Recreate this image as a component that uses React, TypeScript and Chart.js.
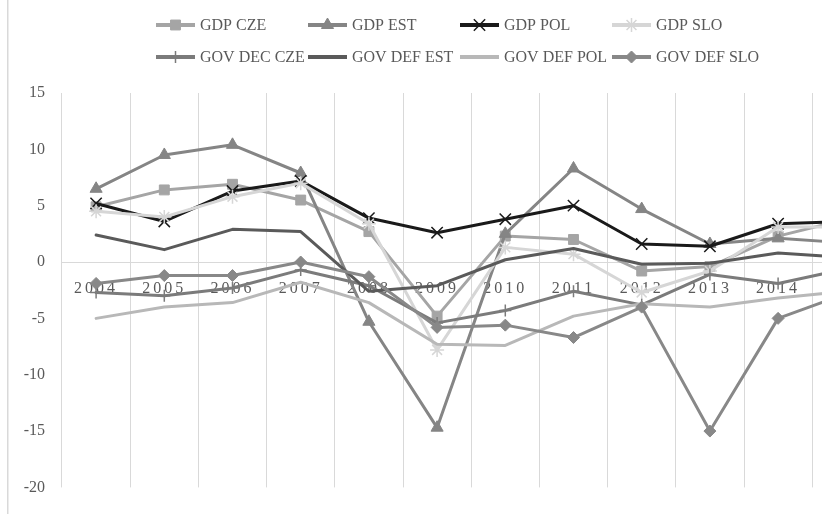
import React, { useEffect, useRef } from 'react';
import { Chart, registerables, PointElement } from 'chart.js';

Chart.register(...registerables);

// ---------- data ----------
const CATEGORIES = ['2004', '2005', '2006', '2007', '2008', '2009', '2010', '2011', '2012', '2013', '2014', '2015'];
const SERIES_NAMES = ['GDP CZE', 'GDP EST', 'GDP POL', 'GDP SLO', 'GOV DEC CZE', 'GOV DEF EST', 'GOV DEF POL', 'GOV DEF SLO'];
const GDP_CZE = [4.9, 6.4, 6.9, 5.5, 2.7, -4.8, 2.3, 2.0, -0.8, -0.4, 2.3, 3.8];
const GDP_EST = [6.5, 9.5, 10.4, 7.9, -5.3, -14.7, 2.5, 8.3, 4.7, 1.6, 2.1, 1.7];
const GDP_POL = [5.2, 3.6, 6.3, 7.2, 3.9, 2.6, 3.8, 5.0, 1.6, 1.4, 3.4, 3.6];
const GDP_SLO = [4.5, 4.0, 5.8, 7.0, 3.4, -7.8, 1.3, 0.7, -2.7, -0.8, 3.1, 3.1];
const GOV_DEC_CZE = [-2.7, -3.0, -2.3, -0.7, -2.1, -5.4, -4.3, -2.6, -3.8, -1.1, -1.9, -0.6];
const GOV_DEF_EST = [2.4, 1.1, 2.9, 2.7, -2.6, -2.1, 0.2, 1.2, -0.2, -0.1, 0.8, 0.4];
const GOV_DEF_POL = [-5.0, -4.0, -3.6, -1.8, -3.6, -7.3, -7.4, -4.8, -3.7, -4.0, -3.2, -2.6];
const GOV_DEF_SLO = [-1.9, -1.2, -1.2, 0.0, -1.3, -5.8, -5.6, -6.7, -4.0, -15.0, -5.0, -2.8];
const Y_MIN = -20;
const Y_MAX = 15;
const Y_STEP = 5;

// ---------- styles ----------
const SERIES_VALUES = [GDP_CZE, GDP_EST, GDP_POL, GDP_SLO, GOV_DEC_CZE, GOV_DEF_EST, GOV_DEF_POL, GOV_DEF_SLO];
const COLORS = ['#a5a5a5', '#858585', '#1a1a1a', '#d6d6d6', '#7b7b7b', '#5a5a5a', '#b8b8b8', '#888888'];
const POINT_STYLES = ['rect', 'triangle', 'crossRot', 'star', 'cross', 'circle', 'circle', 'rectRot'];
const POINT_RADII = [7, 7, 8, 7, 6, 0, 0, 6];
const POINT_BORDERS = [1, 1, 1.5, 1.5, 1.5, 1, 1, 1];
const FONT_FAMILY = '"Liberation Serif", "Times New Roman", serif';
const TEXT_COLOR = '#595959';
const GRID_COLOR = '#d9d9d9';

const LEGEND_X = 156;
const LEGEND_COL = 152;
const LEGEND_Y = 25;
const LEGEND_ROW = 32;

const framePlugin = {
  id: 'frame',
  beforeDraw(chart: any) {
    const ctx = chart.ctx;
    ctx.save();
    ctx.fillStyle = '#ffffff';
    ctx.fillRect(0, 0, chart.width, chart.height);
    ctx.fillStyle = GRID_COLOR;
    ctx.fillRect(7, 0, 1.5, chart.height);
    ctx.restore();
    const sx = chart.scales.x;
    if (sx && !sx.__lsPatched) {
      const orig = sx.drawLabels.bind(sx);
      sx.drawLabels = (area: any) => {
        const c = chart.ctx as any;
        const prev = c.letterSpacing;
        c.letterSpacing = '3px';
        orig(area);
        c.letterSpacing = prev || '0px';
      };
      sx.__lsPatched = true;
    }
  },
};

const legendPlugin = {
  id: 'gridLegend',
  afterDraw(chart: any) {
    const ctx = chart.ctx;
    chart.data.datasets.forEach((ds: any, i: number) => {
      const col = i % 4;
      const row = Math.floor(i / 4);
      const x0 = LEGEND_X + col * LEGEND_COL;
      const y = LEGEND_Y + row * LEGEND_ROW;
      ctx.save();
      ctx.strokeStyle = ds.borderColor;
      ctx.lineWidth = 4;
      ctx.lineCap = 'butt';
      ctx.beginPath();
      ctx.moveTo(x0, y);
      ctx.lineTo(x0 + 39, y);
      ctx.stroke();
      if (ds.pointRadius > 0) {
        const pt: any = new PointElement({
          x: x0 + 19.5,
          y,
          options: {
            pointStyle: ds.pointStyle,
            radius: ds.pointRadius,
            rotation: 0,
            borderWidth: ds.pointBorderWidth,
            borderColor: ds.borderColor,
            backgroundColor: ds.pointBackgroundColor,
          },
        } as any);
        pt.draw(ctx);
      }
      ctx.fillStyle = TEXT_COLOR;
      ctx.font = `16px ${FONT_FAMILY}`;
      ctx.textBaseline = 'middle';
      ctx.textAlign = 'left';
      ctx.fillText(ds.label, x0 + 44, y + 1);
      ctx.restore();
    });
  },
};

export default function App() {
  const canvasRef = useRef<HTMLCanvasElement | null>(null);

  useEffect(() => {
    if (!canvasRef.current) return;
    const datasets = SERIES_NAMES.map((name, i) => ({
      label: name,
      data: SERIES_VALUES[i],
      borderColor: COLORS[i],
      backgroundColor: COLORS[i],
      pointBackgroundColor: COLORS[i],
      pointBorderColor: COLORS[i],
      pointStyle: POINT_STYLES[i],
      pointRadius: POINT_RADII[i],
      pointBorderWidth: POINT_BORDERS[i],
      borderWidth: 3,
      borderJoinStyle: 'round',
      borderCapStyle: 'round',
      tension: 0,
      fill: false,
      order: -i,
    }));
    const chart = new Chart(canvasRef.current, {
      type: 'line',
      data: { labels: CATEGORIES, datasets: datasets as any },
      options: {
        responsive: false,
        animation: false,
        devicePixelRatio: 1,
        events: [],
        layout: { padding: { left: 0, top: 93, right: 19.6, bottom: 14 } },
        plugins: {
          legend: { display: false },
          tooltip: { enabled: false },
          title: { display: false },
        },
        scales: {
          x: {
            type: 'category',
            position: { y: 0 } as any,
            offset: true,
            grid: { display: true, offset: true, color: GRID_COLOR, lineWidth: 1, drawTicks: false },
            border: { display: true, color: GRID_COLOR, width: 1 },
            ticks: {
              color: TEXT_COLOR,
              font: { family: FONT_FAMILY, size: 16 },
              padding: 17,
              maxRotation: 0,
              autoSkip: false,
            },
          },
          y: {
            min: Y_MIN,
            max: Y_MAX,
            ticks: {
              stepSize: Y_STEP,
              color: TEXT_COLOR,
              font: { family: FONT_FAMILY, size: 16 },
              padding: 17,
            },
            grid: { display: false, drawTicks: false },
            border: { display: false },
            afterFit: (s: any) => {
              s.width = 62;
            },
          },
        },
      } as any,
      plugins: [framePlugin, legendPlugin],
    });
    return () => chart.destroy();
  }, []);

  return (
    <div
      style={{
        position: 'fixed',
        left: 0,
        top: 0,
        width: 822,
        height: 514,
        overflow: 'hidden',
        background: '#ffffff',
      }}
    >
      <canvas ref={canvasRef} width={900} height={514} style={{ display: 'block', width: 900, height: 514 }} />
    </div>
  );
}
